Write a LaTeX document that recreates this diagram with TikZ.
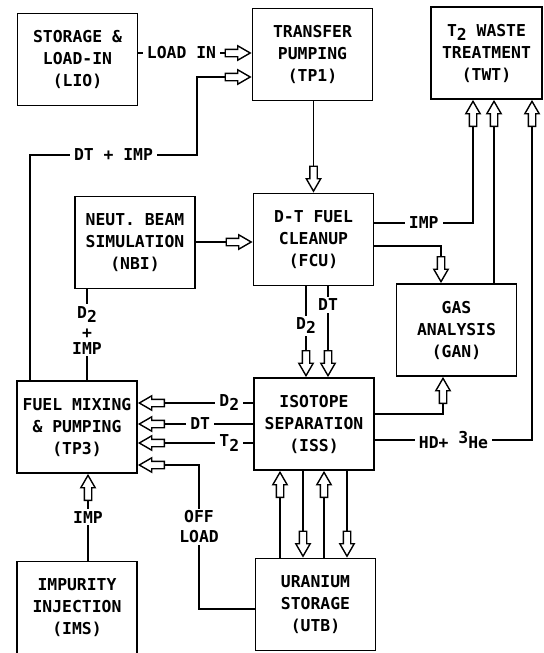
\documentclass[tikz,border=0pt]{standalone}
\usepackage{fontspec}
\setmonofont{DejaVu Sans Mono}
\usetikzlibrary{shapes.arrows}
\newcommand{\lowtwo}{\raisebox{-0.45ex}{2}}
\newcommand{\highthree}{\raisebox{0.6ex}{3}}

\begin{document}
\begin{tikzpicture}[x=0.5pt,y=-0.5pt,font=\ttfamily\bfseries\fontsize{8.2}{11}\selectfont,
  unit/.style={draw,line width=0.9pt,minimum width=60pt,minimum height=46pt,align=center,inner sep=0pt},
  hollow/.style={single arrow,draw,line width=0.7pt,fill=white,minimum height=12.5pt,inner xsep=0pt,inner ysep=1.5pt,single arrow head extend=1.75pt,single arrow tip angle=60,anchor=tip},
  flow/.style={line width=0.7pt},
  tag/.style={fill=white,inner xsep=2pt,inner ysep=1pt}]
\useasboundingbox (0,0) rectangle (544,653);
% units
\node[unit] (box-lio) at (77.5,59.5) {STORAGE \&\\LOAD-IN\\(LIO)};
\node[unit] (box-tp1) at (312.5,54.5) {TRANSFER\\PUMPING\\(TP1)};
\node[unit,minimum width=55.5pt] (box-twt) at (486.5,53) {T\lowtwo{} WASTE\\TREATMENT\\(TWT)};
\node[unit] (box-nbi) at (135,242.5) {NEUT. BEAM\\SIMULATION\\(NBI)};
\node[unit] (box-fcu) at (313.5,239.5) {D-T FUEL\\CLEANUP\\(FCU)};
\node[unit] (box-gan) at (456.5,330) {GAS\\ANALYSIS\\(GAN)};
\node[unit] (box-tp3) at (77,427) {FUEL MIXING\\\& PUMPING\\(TP3)};
\node[unit] (box-iss) at (314,424) {ISOTOPE\\SEPARATION\\(ISS)};
\node[unit] (box-ims) at (77,607.5) {IMPURITY\\INJECTION\\(IMS)};
\node[unit] (box-utb) at (315.5,604.5) {URANIUM\\STORAGE\\(UTB)};
% hollow arrow heads
\node[hollow] (arr-load-in) at (box-tp1.west |- 0,53) {};
\node[hollow] (arr-recycle) at (box-tp1.west |- 0,77) {};
\node[hollow,rotate=-90] (arr-tp1-fcu) at (box-fcu.north) {};
\node[hollow] (arr-nbi-fcu) at (box-fcu.west |- 0,242) {};
\node[hollow,rotate=90] (arr-imp-twt) at (473,0 |- box-twt.south) {};
\node[hollow,rotate=90] (arr-gan-twt) at (494,0 |- box-twt.south) {};
\node[hollow,rotate=90] (arr-hd-twt) at (532,0 |- box-twt.south) {};
\node[hollow,rotate=-90] (arr-fcu-gan) at (441,0 |- box-gan.north) {};
\node[hollow,rotate=90] (arr-iss-gan) at (443,0 |- box-gan.south) {};
\node[hollow,rotate=-90] (arr-d2-iss) at (306,0 |- box-iss.north) {};
\node[hollow,rotate=-90] (arr-dt-iss) at (328,0 |- box-iss.north) {};
\node[hollow,rotate=180] (arr-d2-tp3) at (box-tp3.east |- 0,403) {};
\node[hollow,rotate=180] (arr-dt-tp3) at (box-tp3.east |- 0,424) {};
\node[hollow,rotate=180] (arr-t2-tp3) at (box-tp3.east |- 0,443) {};
\node[hollow,rotate=180] (arr-off-load) at (box-tp3.east |- 0,465) {};
\node[hollow,rotate=90] (arr-imp-tp3) at (88,0 |- box-tp3.south) {};
\node[hollow,rotate=90] (arr-utb-iss-a) at (280,0 |- box-iss.south) {};
\node[hollow,rotate=-90] (arr-iss-utb-a) at (303,0 |- box-utb.north) {};
\node[hollow,rotate=90] (arr-utb-iss-b) at (324,0 |- box-iss.south) {};
\node[hollow,rotate=-90] (arr-iss-utb-b) at (347,0 |- box-utb.north) {};
% connectors
\draw[flow] (box-lio.east |- arr-load-in.tail) -- node[tag]{LOAD IN} (arr-load-in.tail);
\draw[flow] (box-tp3.north -| 30,0) -- (30,155) -- node[tag]{DT + IMP} (197,155) |- (arr-recycle.tail);
\draw[flow] (box-tp1.south -| arr-tp1-fcu.tail) -- (arr-tp1-fcu.tail);
\draw[flow] (box-nbi.east |- arr-nbi-fcu.tail) -- (arr-nbi-fcu.tail);
\draw[flow] (box-fcu.east |- 0,223) -- node[tag]{IMP} (473,223) -- (arr-imp-twt.tail);
\draw[flow] (box-fcu.east |- 0,246) -| (arr-fcu-gan.tail);
\draw[flow] (box-gan.north -| arr-gan-twt.tail) -- (arr-gan-twt.tail);
\draw[flow] (box-iss.east |- 0,440) -- node[tag]{HD+ \highthree{}He} (532,440) -- (arr-hd-twt.tail);
\draw[flow] (box-iss.east |- 0,414) -| (arr-iss-gan.tail);
\draw[flow] (box-fcu.south -| arr-d2-iss.tail) -- node[tag,pos=0.62]{D\lowtwo} (arr-d2-iss.tail);
\draw[flow] (box-fcu.south -| arr-dt-iss.tail) -- node[tag,pos=0.29]{DT} (arr-dt-iss.tail);
\draw[flow] (box-nbi.south -| 87,0) -- node[tag,align=center,pos=0.45,font=\ttfamily\bfseries\fontsize{8.2}{8}\selectfont]{D\lowtwo\\[2pt]+\\IMP} (box-tp3.north -| 87,0);
\draw[flow] (box-iss.west |- arr-d2-tp3.tail) -- node[tag,pos=0.27]{D\lowtwo} (arr-d2-tp3.tail);
\draw[flow] (box-iss.west |- arr-dt-tp3.tail) -- node[tag,pos=0.6]{DT} (arr-dt-tp3.tail);
\draw[flow] (box-iss.west |- arr-t2-tp3.tail) -- node[tag,pos=0.27]{T\lowtwo} (arr-t2-tp3.tail);
\draw[flow] (box-utb.west |- 0,609) -- (199,609) -- node[tag,align=center,pos=0.57,font=\ttfamily\bfseries\fontsize{8.2}{10}\selectfont]{OFF\\LOAD} (199,465) -- (arr-off-load.tail);
\draw[flow] (box-ims.north -| arr-imp-tp3.tail) -- node[tag,pos=0.73]{IMP} (arr-imp-tp3.tail);
\draw[flow] (box-utb.north -| arr-utb-iss-a.tail) -- (arr-utb-iss-a.tail);
\draw[flow] (box-iss.south -| arr-iss-utb-a.tail) -- (arr-iss-utb-a.tail);
\draw[flow] (box-utb.north -| arr-utb-iss-b.tail) -- (arr-utb-iss-b.tail);
\draw[flow] (box-iss.south -| arr-iss-utb-b.tail) -- (arr-iss-utb-b.tail);
\end{tikzpicture}
\end{document}
